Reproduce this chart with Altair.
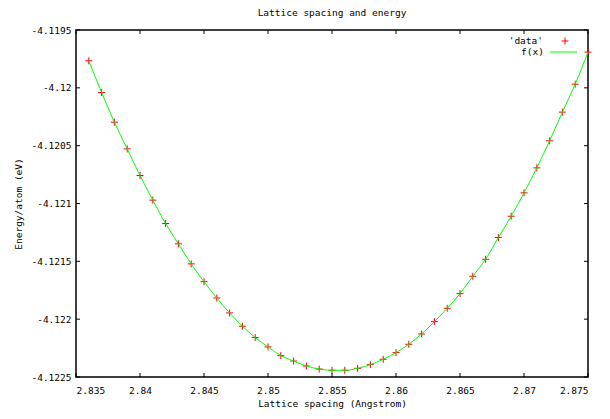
import altair as alt
import pandas as pd

# ---- data ----
lattice = [2.836, 2.837, 2.838, 2.839, 2.840, 2.841, 2.842, 2.843, 2.844, 2.845,
           2.846, 2.847, 2.848, 2.849, 2.850, 2.851, 2.852, 2.853, 2.854, 2.855,
           2.856, 2.857, 2.858, 2.859, 2.860, 2.861, 2.862, 2.863, 2.864, 2.865,
           2.866, 2.867, 2.868, 2.869, 2.870, 2.871, 2.872, 2.873, 2.874, 2.875]
energy = [-4.119766, -4.120040, -4.120297, -4.120528, -4.120758, -4.120971, -4.121173, -4.121349, -4.121522, -4.121676,
          -4.121817, -4.121946, -4.122061, -4.122159, -4.122240, -4.122315, -4.122362, -4.122405, -4.122431, -4.122442,
          -4.122442, -4.122425, -4.122393, -4.122347, -4.122289, -4.122217, -4.122128, -4.122021, -4.121906, -4.121779,
          -4.121629, -4.121482, -4.121294, -4.121110, -4.120908, -4.120692, -4.120458, -4.120210, -4.119968, -4.119691]
x_ticks = [2.835, 2.84, 2.845, 2.85, 2.855, 2.86, 2.865, 2.87, 2.875]
y_ticks = [-4.1225, -4.122, -4.1215, -4.121, -4.1205, -4.12, -4.1195]
legend_labels = ["'data'", "f(x)"]
title_text = "Lattice spacing and energy"
x_title = "Lattice spacing (Angstrom)"
y_title = "Energy/atom (eV)"

W, H = 512, 347
FONT = "DejaVu Sans Mono"
FS = 9.5
PLUS = "M-1,0L1,0M0,-1L0,1"

df = pd.DataFrame({"a": lattice, "e": energy})
xs = alt.Scale(domain=[2.835, 2.875], nice=False, zero=False)
ys = alt.Scale(domain=[-4.1225, -4.1195], nice=False, zero=False)

x_axis = alt.Axis(values=x_ticks, format="~g", labelExpr="replace(datum.label, '\u2212', '-')",
                  title=x_title, labelPadding=8, titlePadding=4,
                  domain=False, ticks=False, grid=False)
y_axis = alt.Axis(values=y_ticks, format="~g", labelExpr="replace(datum.label, '\u2212', '-')",
                  title=y_title, labelPadding=5, titlePadding=7,
                  domain=False, ticks=False, grid=False)

X = alt.X("a:Q", scale=xs, axis=x_axis)
Y = alt.Y("e:Q", scale=ys, axis=y_axis)

points = alt.Chart(df).mark_point(shape=PLUS, size=49, filled=False, color="#ff0000",
                                  strokeWidth=1, opacity=1).encode(x=X, y=Y)
line = alt.Chart(df).mark_line(color="#00ff00", strokeWidth=1, interpolate="monotone").encode(x=X, y=Y)

xt = pd.DataFrame({"a": x_ticks})
yt = pd.DataFrame({"e": y_ticks})
TL = 4
tick_b = alt.Chart(xt).mark_rule(color="black", strokeWidth=1).encode(
    x=X, y=alt.value(H), y2=alt.value(H - TL))
tick_t = alt.Chart(xt).mark_rule(color="black", strokeWidth=1).encode(
    x=X, y=alt.value(0), y2=alt.value(TL))
tick_l = alt.Chart(yt).mark_rule(color="black", strokeWidth=1).encode(
    y=Y, x=alt.value(0), x2=alt.value(TL))
tick_r = alt.Chart(yt).mark_rule(color="black", strokeWidth=1).encode(
    y=Y, x=alt.value(W), x2=alt.value(W - TL))

leg1 = alt.Chart(pd.DataFrame({"label": [legend_labels[0]]})).mark_text(
    align="right", baseline="middle", font=FONT, fontSize=FS, color="black").encode(
    text="label:N", x=alt.value(467), y=alt.value(11))
leg2 = alt.Chart(pd.DataFrame({"label": [legend_labels[1]]})).mark_text(
    align="right", baseline="middle", font=FONT, fontSize=FS, color="black").encode(
    text="label:N", x=alt.value(468), y=alt.value(22))
leg_sym = alt.Chart(pd.DataFrame({"label": [legend_labels[0]]})).mark_point(
    shape=PLUS, size=49, filled=False, color="#ff0000", strokeWidth=1, opacity=1).encode(
    x=alt.value(489), y=alt.value(11))
leg_line = alt.Chart(pd.DataFrame({"label": [legend_labels[1]]})).mark_rule(
    color="#00ff00", strokeWidth=1).encode(x=alt.value(474), x2=alt.value(501), y=alt.value(22))

chart = alt.layer(points, line, tick_b, tick_t, tick_l, tick_r, leg1, leg2, leg_sym, leg_line).properties(
    width=W, height=H,
    title=alt.TitleParams(title_text, anchor="middle", font=FONT, fontSize=FS, fontWeight="normal",
                          color="black", offset=8),
    autosize=alt.AutoSizeParams(type="none"),
    padding={"left": 68, "top": 22, "right": 14, "bottom": 34},
).configure(background="white").configure_view(
    stroke="black", strokeWidth=1.5
).configure_axis(
    labelFont=FONT, labelFontSize=FS, labelColor="black",
    titleFont=FONT, titleFontSize=FS, titleFontWeight="normal", titleColor="black",
)

chart.save("out.html", embed_options={"renderer": "svg", "actions": False})
